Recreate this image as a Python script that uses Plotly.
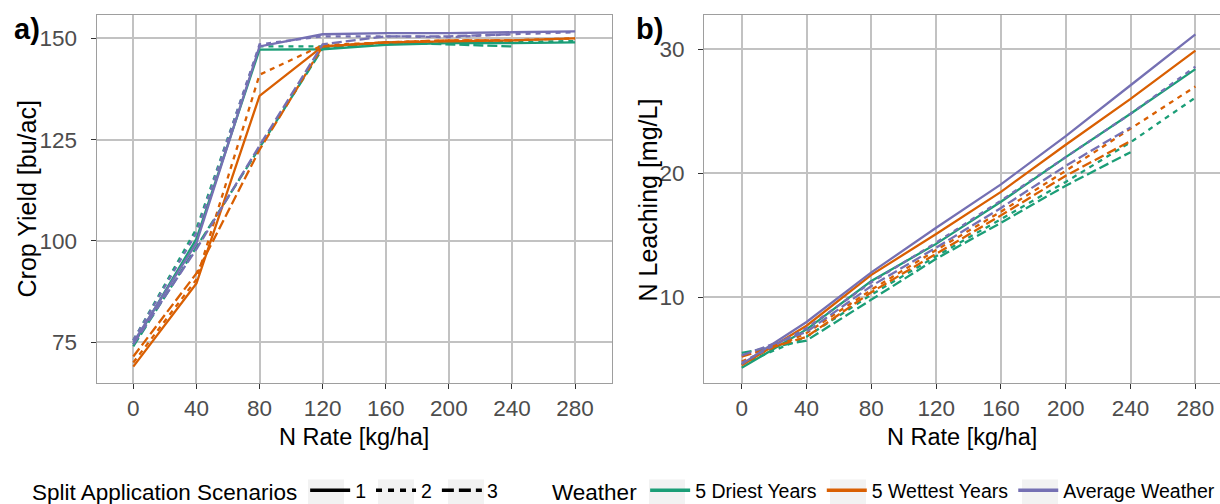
import plotly.graph_objects as go

# ---------------- data ----------------
n_rate = [0, 40, 80, 120, 160, 200, 240, 280]
x_tick_labels = ["0", "40", "80", "120", "160", "200", "240", "280"]

weather_names = ["5 Driest Years", "5 Wettest Years", "Average Weather"]
split_names = ["1", "2", "3"]

# a) Crop yield [bu/ac]  (split 3 was only run up to 240 kg/ha)
yield_dry_1 = [74.5, 100.5, 147.2, 147.3, 148.4, 148.8, 148.8, 149.0]
yield_dry_2 = [75.5, 103.0, 148.0, 148.0, 148.8, 149.0, 149.2, 149.3]
yield_dry_3 = [74.0, 98.5, 123.0, 147.5, 149.0, 148.5, 148.0]
yield_wet_1 = [69.0, 89.5, 135.8, 148.0, 149.0, 149.3, 149.5, 150.0]
yield_wet_2 = [70.0, 90.5, 141.0, 148.3, 149.0, 149.5, 149.5, 150.0]
yield_wet_3 = [71.5, 92.0, 122.5, 148.0, 149.0, 149.5, 149.5]
yield_avg_1 = [75.0, 99.5, 148.0, 151.0, 151.3, 151.3, 151.5, 151.7]
yield_avg_2 = [75.5, 102.0, 148.5, 150.5, 150.5, 150.3, 151.0, 151.5]
yield_avg_3 = [74.5, 98.0, 123.5, 148.5, 150.5, 150.5, 151.0]

# b) N leaching [mg/L]
leach_dry_1 = [4.3, 7.4, 11.3, 14.3, 17.7, 21.3, 24.8, 28.4]
leach_dry_2 = [4.6, 6.8, 10.2, 13.3, 16.3, 19.3, 22.5, 26.1]
leach_dry_3 = [5.5, 6.5, 9.8, 13.1, 16.0, 19.0, 21.7]
leach_wet_1 = [4.5, 7.7, 11.8, 15.1, 18.5, 22.3, 26.0, 29.9]
leach_wet_2 = [4.8, 7.1, 10.6, 13.8, 16.9, 20.2, 23.6, 27.0]
leach_wet_3 = [5.2, 6.8, 10.4, 13.5, 16.6, 19.8, 22.6]
leach_avg_1 = [4.6, 8.0, 12.0, 15.6, 19.1, 23.0, 27.1, 31.2]
leach_avg_2 = [4.7, 7.5, 11.2, 14.4, 17.8, 21.3, 24.8, 28.6]
leach_avg_3 = [5.3, 7.2, 10.9, 14.0, 17.2, 20.6, 23.7]

yield_series = [[yield_dry_1, yield_dry_2, yield_dry_3],
                [yield_wet_1, yield_wet_2, yield_wet_3],
                [yield_avg_1, yield_avg_2, yield_avg_3]]
leach_series = [[leach_dry_1, leach_dry_2, leach_dry_3],
                [leach_wet_1, leach_wet_2, leach_wet_3],
                [leach_avg_1, leach_avg_2, leach_avg_3]]

# ---------------- styles ----------------
W, H = 1220, 504
weather_colors = ["#1B9E77", "#D95F02", "#7570B3"]
split_dashes = ["solid", "5px,5px", "10px,4px"]
legend_dashes = ["solid", "6px,6px", "12px,5px"]
line_w = 2.3
FONT = "Liberation Sans, Arial, sans-serif"
# grey legend-key backgrounds (pixel x ranges)
key_boxes_px = [(308, 344), (378, 414), (448, 484), (649, 685), (830, 866), (1022, 1058)]
key_box_y_px = (479.5, 506)

fig = go.Figure()

for wi in range(3):
    for si in range(3):
        ya = yield_series[wi][si]
        fig.add_trace(go.Scatter(
            x=n_rate[:len(ya)], y=ya, mode="lines", showlegend=False,
            line=dict(color=weather_colors[wi], width=line_w, dash=split_dashes[si]),
            xaxis="x", yaxis="y", hoverinfo="skip"))
        yb = leach_series[wi][si]
        fig.add_trace(go.Scatter(
            x=n_rate[:len(yb)], y=yb, mode="lines", showlegend=False,
            line=dict(color=weather_colors[wi], width=line_w, dash=split_dashes[si]),
            xaxis="x2", yaxis="y2", hoverinfo="skip"))

# legend-only entries
for si in range(3):
    fig.add_trace(go.Scatter(
        x=[None], y=[None], mode="lines", name=split_names[si], legend="legend",
        line=dict(color="black", width=3.5, dash=legend_dashes[si])))
for wi in range(3):
    fig.add_trace(go.Scatter(
        x=[None], y=[None], mode="lines", name=weather_names[wi], legend="legend2",
        line=dict(color=weather_colors[wi], width=3.5)))

axis_common = dict(
    showgrid=True, gridcolor="#C2C2C2", gridwidth=1.6,
    showline=True, linecolor="#9E9E9E", linewidth=1.3, mirror=True,
    ticks="outside", ticklen=5, tickwidth=1.2, tickcolor="#333333",
    tickfont=dict(size=22.5, color="#4D4D4D", family=FONT),
    zeroline=False, automargin=False,
)

top_px, bot_px = 15, 383.3
ydom = [1 - bot_px / H, 1 - top_px / H]
ymid = 1 - 199.5 / H

shapes = [dict(type="rect", xref="paper", yref="paper", layer="below",
               x0=a / W, x1=b / W, y0=1 - key_box_y_px[1] / H, y1=1 - key_box_y_px[0] / H,
               fillcolor="#F2F2F2", line=dict(width=0))
          for a, b in key_boxes_px]

fig.update_layout(
    width=W, height=H,
    margin=dict(l=0, r=0, t=0, b=0, autoexpand=False),
    plot_bgcolor="white", paper_bgcolor="white",
    font=dict(family=FONT, color="black"),
    xaxis=dict(axis_common, domain=[96.7 / W, 611.7 / W], range=[-23.2, 303.2],
               tickvals=n_rate, ticktext=x_tick_labels, anchor="y", ticklabelstandoff=0,
               title=dict(text="N Rate [kg/ha]", font=dict(size=23.5), standoff=8)),
    yaxis=dict(axis_common, domain=ydom, range=[64.88, 155.75], dtick=25, tick0=0, anchor="x",
               ticklabelstandoff=9),
    xaxis2=dict(axis_common, domain=[704.3 / W, 1.0], range=[-23.1, 295.2],
                tickvals=n_rate, ticktext=x_tick_labels, anchor="y2", ticklabelstandoff=0,
                title=dict(text="N Rate [kg/ha]", font=dict(size=23.5), standoff=8)),
    yaxis2=dict(axis_common, domain=ydom, range=[3.05, 32.77], dtick=10, tick0=0, anchor="x2",
                ticklabelstandoff=9),
    legend=dict(orientation="h", x=30 / W, xanchor="left", y=1 - 491 / H, yanchor="middle",
                title=dict(text="Split Application Scenarios", side="left",
                           font=dict(size=22.5, color="black")),
                font=dict(size=19.5, color="black"), bgcolor="rgba(0,0,0,0)",
                itemwidth=40, tracegroupgap=0),
    legend2=dict(orientation="h", x=550 / W, xanchor="left", y=1 - 491 / H, yanchor="middle",
                 title=dict(text="Weather", side="left",
                            font=dict(size=22.5, color="black")),
                 font=dict(size=19.5, color="black"), bgcolor="rgba(0,0,0,0)",
                 itemwidth=40, tracegroupgap=0),
    shapes=shapes,
    annotations=[
        dict(text="Crop Yield [bu/ac]", x=27 / W, y=ymid, xref="paper", yref="paper",
             textangle=-90, showarrow=False, xanchor="center", yanchor="middle",
             font=dict(size=25)),
        dict(text="N Leaching [mg/L]", x=648 / W, y=ymid, xref="paper", yref="paper",
             textangle=-90, showarrow=False, xanchor="center", yanchor="middle",
             font=dict(size=25)),
        dict(text="<b>a)</b>", x=26.7 / W, y=1 - 28.5 / H, xref="paper", yref="paper",
             showarrow=False, xanchor="center", yanchor="middle", font=dict(size=29)),
        dict(text="<b>b)</b>", x=649.5 / W, y=1 - 28.5 / H, xref="paper", yref="paper",
             showarrow=False, xanchor="center", yanchor="middle", font=dict(size=29)),
    ],
)

fig.write_html("out.html", config={"displayModeBar": False},
               post_script="document.body.style.margin='0px';")
